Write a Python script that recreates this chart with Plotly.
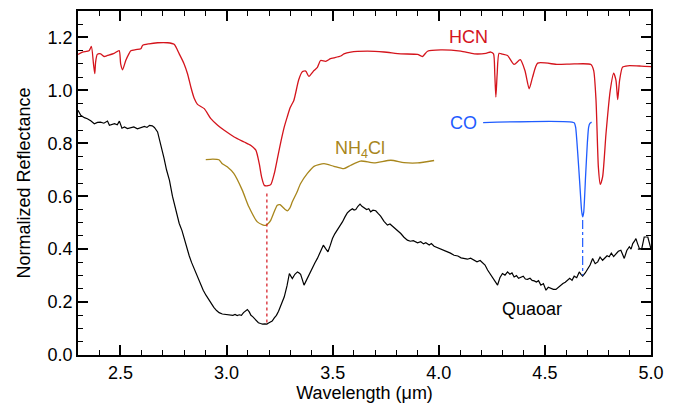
import plotly.graph_objects as go

# Quaoar spectrum (wavelength in micron, normalized reflectance)
quaoar_wl = [2.300, 2.313, 2.330, 2.344, 2.360, 2.377, 2.392, 2.406, 2.422, 2.439, 2.448,
             2.460, 2.472, 2.485, 2.495, 2.507, 2.519, 2.533, 2.547, 2.563, 2.580, 2.597,
             2.613, 2.625, 2.637, 2.650, 2.660, 2.675, 2.690, 2.705, 2.717, 2.731, 2.745,
             2.761, 2.777, 2.790, 2.800, 2.812, 2.824, 2.835, 2.845, 2.857, 2.868, 2.880,
             2.890, 2.903, 2.915, 2.928, 2.940, 2.953, 2.965, 2.980, 2.996, 3.010, 3.020,
             3.030, 3.040, 3.050, 3.060, 3.070, 3.080, 3.090, 3.098, 3.107, 3.115, 3.123,
             3.130, 3.140, 3.150, 3.160, 3.170, 3.180, 3.190, 3.198, 3.205, 3.215, 3.225,
             3.235, 3.245, 3.258, 3.272, 3.285, 3.296, 3.303, 3.310, 3.322, 3.334, 3.342,
             3.349, 3.357, 3.365, 3.376, 3.388, 3.396, 3.404, 3.416, 3.428, 3.442, 3.456,
             3.467, 3.478, 3.489, 3.499, 3.510, 3.522, 3.534, 3.546, 3.558, 3.569, 3.581,
             3.593, 3.601, 3.609, 3.619, 3.629, 3.638, 3.648, 3.660, 3.670, 3.679, 3.690,
             3.703, 3.714, 3.726, 3.742, 3.758, 3.770, 3.782, 3.800, 3.821, 3.836, 3.852,
             3.866, 3.880, 3.900, 3.915, 3.928, 3.939, 3.955, 3.965, 3.978, 3.990, 4.005,
             4.025, 4.040, 4.055, 4.072, 4.090, 4.105, 4.119, 4.135, 4.150, 4.167, 4.180,
             4.195, 4.206, 4.218, 4.230, 4.242, 4.253, 4.264, 4.277, 4.288, 4.300, 4.312,
             4.324, 4.335, 4.345, 4.355, 4.366, 4.376, 4.387, 4.398, 4.408, 4.418, 4.430,
             4.440, 4.450, 4.460, 4.470, 4.481, 4.493, 4.505, 4.516, 4.528, 4.540, 4.552,
             4.563, 4.575, 4.585, 4.596, 4.607, 4.617, 4.628, 4.638, 4.650, 4.662, 4.670,
             4.678, 4.690, 4.701, 4.713, 4.725, 4.737, 4.749, 4.760, 4.772, 4.783, 4.793,
             4.803, 4.813, 4.824, 4.835, 4.846, 4.858, 4.866, 4.874, 4.886, 4.898, 4.906,
             4.914, 4.922, 4.929, 4.937, 4.945, 4.956, 4.968, 4.985, 5.000, 4.938]
quaoar_rf = [0.925, 0.906, 0.897, 0.893, 0.885, 0.874, 0.879, 0.880, 0.876, 0.884, 0.868,
             0.872, 0.874, 0.870, 0.884, 0.857, 0.862, 0.856, 0.859, 0.862, 0.855, 0.860,
             0.864, 0.860, 0.868, 0.866, 0.860, 0.843, 0.799, 0.745, 0.700, 0.660, 0.600,
             0.547, 0.497, 0.470, 0.440, 0.405, 0.375, 0.350, 0.330, 0.305, 0.285, 0.265,
             0.245, 0.226, 0.210, 0.195, 0.180, 0.168, 0.160, 0.155, 0.153, 0.151, 0.152,
             0.150, 0.153, 0.149, 0.152, 0.150, 0.160, 0.165, 0.172, 0.163, 0.150, 0.145,
             0.138, 0.130, 0.122, 0.119, 0.117, 0.118, 0.117, 0.121, 0.125, 0.128, 0.140,
             0.150, 0.165, 0.190, 0.220, 0.262, 0.308, 0.298, 0.289, 0.305, 0.314, 0.310,
             0.305, 0.285, 0.264, 0.282, 0.302, 0.318, 0.333, 0.348, 0.365, 0.392, 0.415,
             0.402, 0.390, 0.415, 0.440, 0.458, 0.472, 0.490, 0.503, 0.522, 0.537, 0.546,
             0.553, 0.548, 0.550, 0.562, 0.570, 0.562, 0.557, 0.550, 0.553, 0.541, 0.547,
             0.545, 0.535, 0.525, 0.505, 0.491, 0.495, 0.487, 0.472, 0.459, 0.445, 0.434,
             0.430, 0.432, 0.424, 0.428, 0.420, 0.424, 0.416, 0.421, 0.411, 0.407, 0.404,
             0.396, 0.392, 0.385, 0.377, 0.374, 0.367, 0.365, 0.362, 0.366, 0.358, 0.352,
             0.357, 0.348, 0.340, 0.321, 0.306, 0.295, 0.280, 0.264, 0.292, 0.308, 0.302,
             0.314, 0.305, 0.310, 0.295, 0.300, 0.290, 0.293, 0.298, 0.287, 0.286, 0.290,
             0.282, 0.280, 0.276, 0.281, 0.264, 0.270, 0.245, 0.256, 0.252, 0.248, 0.248,
             0.256, 0.264, 0.270, 0.275, 0.283, 0.290, 0.282, 0.298, 0.292, 0.314, 0.305,
             0.298, 0.310, 0.327, 0.340, 0.365, 0.345, 0.352, 0.370, 0.358, 0.366, 0.375,
             0.371, 0.385, 0.372, 0.384, 0.392, 0.396, 0.380, 0.365, 0.395, 0.409, 0.400,
             0.421, 0.430, 0.440, 0.420, 0.403, 0.400, 0.446, 0.446, 0.400, 0.400]

# HCN laboratory spectrum
hcn_wl = [2.300, 2.321, 2.352, 2.363, 2.373, 2.379, 2.383, 2.391, 2.407, 2.423, 2.439,
          2.470, 2.494, 2.501, 2.510, 2.525, 2.541, 2.549, 2.572, 2.596, 2.604, 2.635,
          2.675, 2.722, 2.753, 2.777, 2.800, 2.816, 2.832, 2.848, 2.863, 2.895, 2.926,
          2.958, 2.989, 3.036, 3.083, 3.115, 3.138, 3.154, 3.165, 3.178, 3.195, 3.209,
          3.225, 3.241, 3.257, 3.272, 3.286, 3.300, 3.317, 3.340, 3.357, 3.373, 3.388,
          3.412, 3.428, 3.443, 3.467, 3.490, 3.506, 3.538, 3.553, 3.585, 3.664, 3.742,
          3.821, 3.900, 3.923, 3.947, 4.010, 4.104, 4.167, 4.222, 4.245, 4.258, 4.264,
          4.269, 4.275, 4.284, 4.300, 4.324, 4.355, 4.384, 4.406, 4.426, 4.442, 4.466,
          4.560, 4.638, 4.717, 4.730, 4.741, 4.752, 4.761, 4.772, 4.788, 4.808, 4.824,
          4.835, 4.843, 4.852, 4.866, 4.890, 4.953, 5.000]
hcn_rf = [1.136, 1.145, 1.150, 1.166, 1.100, 1.063, 1.107, 1.136, 1.138, 1.128, 1.132,
          1.140, 1.150, 1.100, 1.078, 1.113, 1.140, 1.150, 1.154, 1.157, 1.170, 1.176,
          1.180, 1.180, 1.174, 1.138, 1.100, 1.063, 1.012, 0.969, 0.947, 0.931, 0.893,
          0.868, 0.849, 0.824, 0.805, 0.792, 0.774, 0.723, 0.673, 0.641, 0.640, 0.645,
          0.686, 0.748, 0.810, 0.862, 0.900, 0.935, 0.962, 1.040, 1.070, 1.073, 1.053,
          1.075, 1.087, 1.113, 1.110, 1.120, 1.123, 1.130, 1.138, 1.145, 1.148, 1.145,
          1.138, 1.136, 1.128, 1.148, 1.153, 1.148, 1.138, 1.140, 1.145, 1.138, 1.060,
          0.975, 1.060, 1.140, 1.137, 1.132, 1.098, 1.116, 1.075, 1.006, 1.050, 1.103,
          1.098, 1.100, 1.098, 1.075, 0.962, 0.710, 0.645, 0.673, 0.837, 1.000, 1.065,
          1.038, 0.965, 1.038, 1.088, 1.093, 1.092, 1.090]

# NH4Cl laboratory spectrum
nh4cl_wl = [2.902, 2.935, 2.964, 2.980, 3.003, 3.034, 3.074, 3.105, 3.145, 3.170, 3.184,
            3.196, 3.208, 3.224, 3.239, 3.252, 3.263, 3.276, 3.286, 3.298, 3.310, 3.330,
            3.349, 3.381, 3.412, 3.459, 3.506, 3.553, 3.585, 3.632, 3.695, 3.774, 3.836,
            3.900, 3.978]
nh4cl_rf = [0.738, 0.740, 0.738, 0.723, 0.711, 0.686, 0.623, 0.560, 0.503, 0.492, 0.490,
            0.497, 0.509, 0.540, 0.566, 0.568, 0.560, 0.550, 0.545, 0.555, 0.579, 0.612,
            0.648, 0.686, 0.713, 0.723, 0.713, 0.704, 0.717, 0.733, 0.726, 0.736, 0.727,
            0.726, 0.735]

# CO ice band (offset)
co_wl = [4.209, 4.638, 4.645, 4.655, 4.665, 4.673, 4.678, 4.683, 4.692, 4.700, 4.706,
         4.712, 4.720]
co_rf = [0.878, 0.878, 0.860, 0.760, 0.640, 0.545, 0.522, 0.540, 0.680, 0.800, 0.860,
         0.875, 0.880]

# Band-centre markers
hcn_band = [3.19, 0.61, 0.12]     # wavelength, top, bottom
co_band = [4.678, 0.51, 0.30]

RED = "#d4141c"
OLIVE = "#a8861c"
BLUE = "#1f5cff"
FONT = "Liberation Sans, Arial, Helvetica, sans-serif"
FS = 18

fig = go.Figure()
fig.add_trace(go.Scatter(x=quaoar_wl, y=quaoar_rf, mode="lines",
                         line=dict(color="black", width=1.2)))
fig.add_trace(go.Scatter(x=hcn_wl, y=hcn_rf, mode="lines",
                         line=dict(color=RED, width=1.3, shape="spline", smoothing=0.6)))
fig.add_trace(go.Scatter(x=nh4cl_wl, y=nh4cl_rf, mode="lines",
                         line=dict(color=OLIVE, width=1.3, shape="spline", smoothing=0.6)))
fig.add_trace(go.Scatter(x=co_wl, y=co_rf, mode="lines",
                         line=dict(color=BLUE, width=1.3, shape="spline", smoothing=0.5)))
fig.add_trace(go.Scatter(x=[hcn_band[0]] * 2, y=hcn_band[1:], mode="lines",
                         line=dict(color=RED, width=1.2, dash="dot")))
fig.add_trace(go.Scatter(x=[co_band[0]] * 2, y=co_band[1:], mode="lines",
                         line=dict(color=BLUE, width=1.2, dash="dashdot")))

labels = [
    ("HCN", 4.142, 1.20, RED),
    ("CO", 4.116, 0.878, BLUE),
    ("NH<sub>4</sub>Cl", 3.627, 0.776, OLIVE),
    ("Quaoar", 4.441, 0.174, "black"),
]
for text, x, y, color in labels:
    fig.add_annotation(x=x, y=y, text=text, showarrow=False,
                       font=dict(family=FONT, size=FS, color=color),
                       xanchor="center", yanchor="middle")

axis_common = dict(
    showline=True, linecolor="black", linewidth=1.5, mirror="allticks",
    ticks="inside", ticklen=10, tickwidth=1.5, tickcolor="black",
    showgrid=False, zeroline=False, tickformat=".1f", automargin=False,
    tickfont=dict(family=FONT, size=FS, color="black"),
)

fig.update_xaxes(range=[2.3, 5.0], dtick=0.5, tick0=0, ticklabelstandoff=1,
                 minor=dict(dtick=0.1, ticks="inside", ticklen=5, tickwidth=1.2,
                            tickcolor="black", showgrid=False),
                 title=dict(text="Wavelength (μm)", standoff=3,
                            font=dict(family=FONT, size=FS, color="black")),
                 **axis_common)
fig.update_yaxes(range=[0, 1.3], dtick=0.2, tick0=0,
                 minor=dict(dtick=0.05, ticks="inside", ticklen=5, tickwidth=1.2,
                            tickcolor="black", showgrid=False),
                 title=dict(text="Normalized Reflectance", standoff=12,
                            font=dict(family=FONT, size=FS, color="black")),
                 **axis_common)

fig.update_layout(width=678, height=407, showlegend=False,
                  margin=dict(l=78, r=27, t=11, b=52),
                  paper_bgcolor="white", plot_bgcolor="white")

fig.write_html("out.html")
